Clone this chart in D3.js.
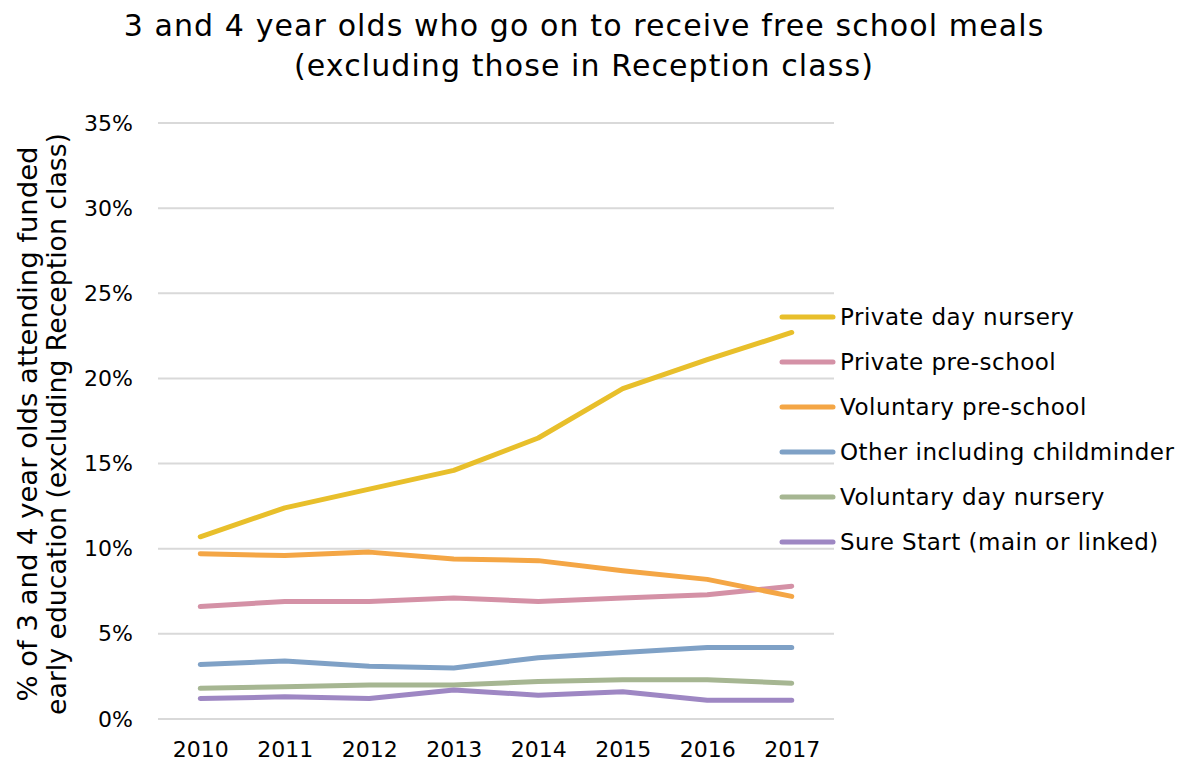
<!DOCTYPE html>
<html>
<head>
<meta charset="utf-8">
<script src="https://cdn.jsdelivr.net/npm/d3@7"></script>
<style>
  html, body { margin: 0; padding: 0; background: #fff; }
  svg { display: block; font-family: "DejaVu Sans", Verdana, sans-serif; }
</style>
</head>
<body>
<svg id="chart" width="1184" height="765"></svg>
<script>
const years = ["2010", "2011", "2012", "2013", "2014", "2015", "2016", "2017"];
const yTicks = [0, 5, 10, 15, 20, 25, 30, 35];

const seriesNames = [
  "Private day nursery",
  "Private pre-school",
  "Voluntary pre-school",
  "Other including childminder",
  "Voluntary day nursery",
  "Sure Start (main or linked)"
];
const seriesColors = ["#E8BF2B", "#D491A6", "#F4A645", "#7FA1C6", "#A6B692", "#9E87C3"];

const privateDayNursery   = [10.7, 12.4, 13.5, 14.6, 16.5, 19.4, 21.1, 22.7];
const privatePreSchool    = [6.6, 6.9, 6.9, 7.1, 6.9, 7.1, 7.3, 7.8];
const voluntaryPreSchool  = [9.7, 9.6, 9.8, 9.4, 9.3, 8.7, 8.2, 7.2];
const otherChildminder    = [3.2, 3.4, 3.1, 3.0, 3.6, 3.9, 4.2, 4.2];
const voluntaryDayNursery = [1.8, 1.9, 2.0, 2.0, 2.2, 2.3, 2.3, 2.1];
const sureStart           = [1.2, 1.3, 1.2, 1.7, 1.4, 1.6, 1.1, 1.1];

const seriesValues = [privateDayNursery, privatePreSchool, voluntaryPreSchool,
                      otherChildminder, voluntaryDayNursery, sureStart];

const svg = d3.select("#chart");
const plot = { left: 158, right: 834, top: 123, bottom: 719 };

const x = d3.scalePoint().domain(years).range([plot.left, plot.right]).padding(0.5);
const y = d3.scaleLinear().domain([0, 35]).range([plot.bottom, plot.top]);

// Title
const title = svg.append("text")
  .attr("text-anchor", "middle")
  .attr("font-size", 30).attr("letter-spacing", 1.1).attr("fill", "#000");
title.append("tspan").attr("x", 584).attr("y", 36)
  .text("3 and 4 year olds who go on to receive free school meals");
title.append("tspan").attr("x", 584).attr("y", 76)
  .text("(excluding those in Reception class)");

// Gridlines
svg.append("g").selectAll("line").data(yTicks).join("line")
  .attr("x1", plot.left).attr("x2", plot.right)
  .attr("y1", d => y(d)).attr("y2", d => y(d))
  .attr("stroke", "#d9d9d9").attr("stroke-width", 2);

// Y axis labels
const yAxis = svg.append("g").attr("transform", `translate(${plot.left},0)`)
  .call(d3.axisLeft(y).tickValues(yTicks).tickFormat(d => d + "%").tickSize(0).tickPadding(25));
yAxis.select(".domain").remove();
yAxis.selectAll("text").attr("font-size", 22).attr("fill", "#000")
  .attr("font-family", "DejaVu Sans, Verdana, sans-serif");

// X axis labels
const xAxis = svg.append("g").attr("transform", `translate(0,${plot.bottom})`)
  .call(d3.axisBottom(x).tickSize(0).tickPadding(22));
xAxis.select(".domain").remove();
xAxis.selectAll("text").attr("font-size", 22).attr("fill", "#000")
  .attr("font-family", "DejaVu Sans, Verdana, sans-serif");

// Y axis title (two lines, rotated)
const yTitle = svg.append("text")
  .attr("transform", "translate(0,424) rotate(-90)")
  .attr("text-anchor", "middle").attr("font-size", 26).attr("fill", "#000");
yTitle.append("tspan").attr("x", 0).attr("y", 37)
  .attr("textLength", 555).attr("lengthAdjust", "spacingAndGlyphs")
  .text("% of 3 and 4 year olds attending funded");
yTitle.append("tspan").attr("x", 0).attr("y", 66)
  .attr("textLength", 582).attr("lengthAdjust", "spacingAndGlyphs")
  .text("early education (excluding Reception class)");

// Lines
const line = d3.line().x((d, i) => x(years[i])).y(d => y(d));
svg.append("g").selectAll("path").data(seriesValues).join("path")
  .attr("d", d => line(d))
  .attr("fill", "none")
  .attr("stroke", (d, i) => seriesColors[i])
  .attr("stroke-width", 5)
  .attr("stroke-linecap", "round")
  .attr("stroke-linejoin", "round");

// Legend
const legend = svg.append("g");
const rows = legend.selectAll("g").data(seriesNames).join("g")
  .attr("transform", (d, i) => `translate(782,${317 + i * 45})`);
rows.append("line").attr("x1", 0).attr("x2", 51).attr("y1", 0).attr("y2", 0)
  .attr("stroke", (d, i) => seriesColors[i]).attr("stroke-width", 5)
  .attr("stroke-linecap", "round");
rows.append("text").attr("x", 58).attr("y", 0).attr("dy", "0.35em")
  .attr("font-size", 23).attr("letter-spacing", 0.5)
  .attr("fill", "#000").text(d => d);
</script>
</body>
</html>
